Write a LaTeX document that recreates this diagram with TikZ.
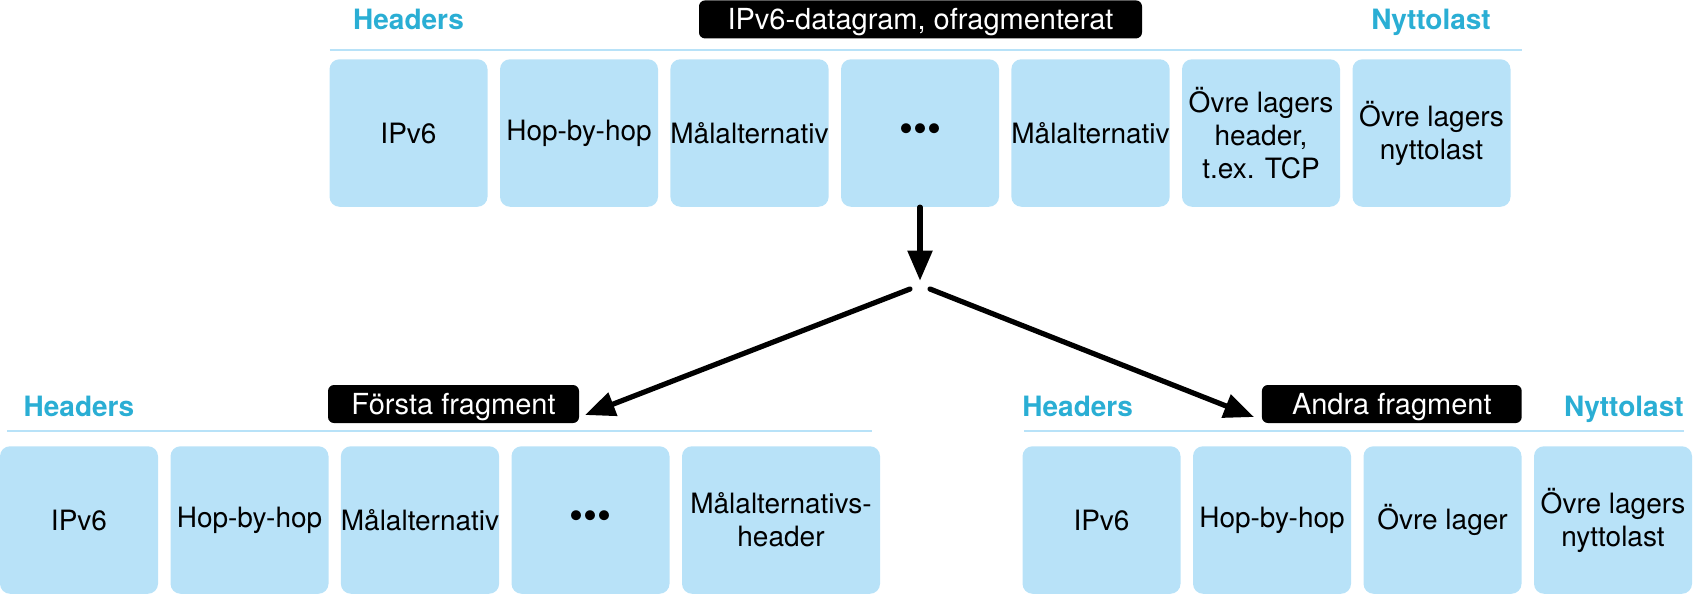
\documentclass[tikz,border=0pt]{standalone}
\usepackage{fontspec}
\setmainfont{TeX Gyre Heros}
\usetikzlibrary{arrows.meta}
\definecolor{boxblue}{RGB}{184,226,248}
\definecolor{headblue}{RGB}{42,174,212}

\begin{document}
\begin{tikzpicture}[x=0.5pt, y=-0.5pt,
  fieldbox/.style={rectangle, rounded corners=5pt, fill=boxblue, minimum width=79pt, minimum height=73.75pt, inner sep=0pt, align=center, font=\fontsize{14}{16.5}\selectfont},
  widebox/.style={fieldbox, minimum width=99pt},
  dotbox/.style={fieldbox, font=\fontsize{20}{20}\selectfont},
  tagbox/.style={rectangle, rounded corners=3pt, fill=black, text=white, minimum height=19pt, inner sep=0pt, text height=1em, text depth=0pt, font=\fontsize{14.5}{17}\selectfont},
  parttext/.style={text=headblue, inner sep=0pt, anchor=base, font=\fontsize{14}{17}\selectfont\bfseries},
  ruleline/.style={boxblue, line width=1.25pt},
  conn/.style={line width=2.6pt, line cap=round, -{Triangle[length=15pt,width=12pt]}}]
\useasboundingbox (0,0) rectangle (1697,596);

% unfragmented datagram
\node [parttext] (hdrTop) at (408.5,29.3) {Headers};
\node [parttext] (loadTop) at (1431,29.3) {Nyttolast};
\node [tagbox, minimum width=221.5pt] (tagTop) at (920.5,19.4) {IPv6-datagram, ofragmenterat};
\draw [ruleline] (329.5,50) -- (1521.7,50);
\node [fieldbox] (tIPv6) at (408.5,133) {IPv6};
\node [fieldbox] (tHop) at (579,133) {Hop-by-hop};
\node [fieldbox] (tDest) at (749.5,133) {Målalternativ};
\node [dotbox] (tDots) at (920,133) {•••};
\node [fieldbox] (tDestB) at (1090.5,133) {Målalternativ};
\node [fieldbox] (tUpper) at (1261,133) {Övre lagers\\header,\\t.ex. TCP};
\node [fieldbox] (tLoad) at (1431.5,133) {Övre lagers\\nyttolast};

% first fragment
\node [parttext] (hdrFirst) at (79,416) {Headers};
\node [tagbox, minimum width=125.5pt] (tagFirst) at (453.5,404) {Första fragment};
\draw [ruleline] (7.3,431) -- (871.7,431);
\node [fieldbox] (fIPv6) at (79,520) {IPv6};
\node [fieldbox] (fHop) at (249.5,520) {Hop-by-hop};
\node [fieldbox] (fDest) at (420,520) {Målalternativ};
\node [dotbox] (fDots) at (590.5,520) {•••};
\node [widebox] (fDestHdr) at (781,520) {Målalternativs-\\header};

% second fragment
\node [parttext, anchor=base west] (hdrSecond) at (1022,416) {Headers};
\node [parttext, anchor=base east] (loadSecond) at (1684,416) {Nyttolast};
\node [tagbox, minimum width=129.9pt] (tagSecond) at (1391.8,404) {Andra fragment};
\draw [ruleline] (1024,431) -- (1684,431);
\node [fieldbox] (sIPv6) at (1101.5,520) {IPv6};
\node [fieldbox] (sHop) at (1272,520) {Hop-by-hop};
\node [fieldbox] (sUpper) at (1442.5,520) {Övre lager};
\node [fieldbox] (sLoad) at (1613,520) {Övre lagers\\nyttolast};

% arrows
\coordinate (fork) at (920,280.7);
\coordinate (forkL) at (910,289);
\coordinate (forkR) at (930,289);
\coordinate (tipL) at (585,415);
\coordinate (tipR) at (1254,417);
\draw [conn] (tDots.south) -- (fork);
\draw [conn] (forkL) -- (tipL);
\draw [conn] (forkR) -- (tipR);

\end{tikzpicture}
\end{document}
